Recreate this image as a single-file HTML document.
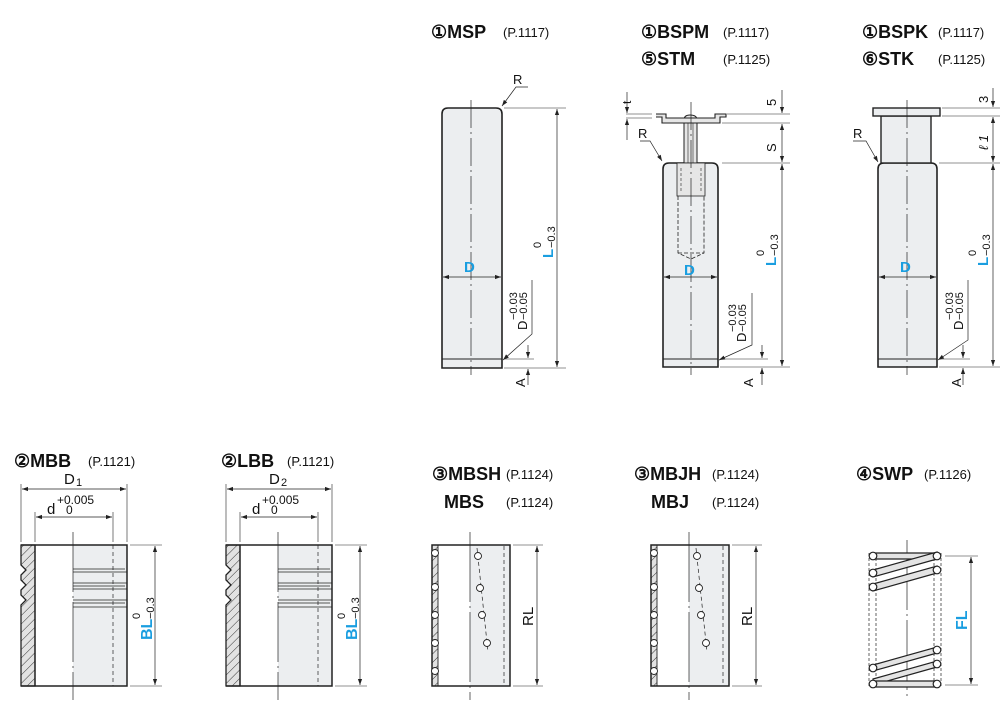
<!DOCTYPE html>
<html><head><meta charset="utf-8"><style>
html,body{margin:0;padding:0;background:#fff;}
svg{display:block;}
text{font-family:"Liberation Sans",sans-serif;fill:#111;}
.h{font-weight:bold;font-size:18px;}
.p{font-size:13px;}
.b{fill:#1a9ee0;font-weight:bold;}
</style></head><body>
<svg width="1000" height="705" viewBox="0 0 1000 705" xmlns="http://www.w3.org/2000/svg">
<defs>
<marker id="a" viewBox="0 0 10 10" refX="10" refY="5" markerWidth="8" markerHeight="6" orient="auto-start-reverse" markerUnits="userSpaceOnUse"><path d="M0,1.5 L10,5 L0,8.5 Z" fill="#222"/></marker>
<pattern id="ht" width="6" height="6" patternUnits="userSpaceOnUse" patternTransform="rotate(45)"><rect width="6" height="6" fill="#e2e2e2"/><line x1="0" y1="0" x2="0" y2="6" stroke="#333" stroke-width="1"/></pattern>
</defs>
<g stroke="#222" fill="none" stroke-width="1">

<!-- headers -->
<text class="h" x="431" y="38" stroke="none">①MSP</text><text class="p" x="503" y="37" stroke="none">(P.1117)</text>
<text class="h" x="641" y="38" stroke="none">①BSPM</text><text class="p" x="723" y="37" stroke="none">(P.1117)</text>
<text class="h" x="641" y="65" stroke="none">⑤STM</text><text class="p" x="723" y="64" stroke="none">(P.1125)</text>
<text class="h" x="862" y="38" stroke="none">①BSPK</text><text class="p" x="938" y="37" stroke="none">(P.1117)</text>
<text class="h" x="862" y="65" stroke="none">⑥STK</text><text class="p" x="938" y="64" stroke="none">(P.1125)</text>
<text class="h" x="14" y="467" stroke="none">②MBB</text><text class="p" x="88" y="466" stroke="none">(P.1121)</text>
<text class="h" x="221" y="467" stroke="none">②LBB</text><text class="p" x="287" y="466" stroke="none">(P.1121)</text>
<text class="h" x="432" y="480" stroke="none">③MBSH</text><text class="p" x="506" y="479" stroke="none">(P.1124)</text>
<text class="h" x="444" y="508" stroke="none">MBS</text><text class="p" x="506" y="507" stroke="none">(P.1124)</text>
<text class="h" x="634" y="480" stroke="none">③MBJH</text><text class="p" x="712" y="479" stroke="none">(P.1124)</text>
<text class="h" x="651" y="508" stroke="none">MBJ</text><text class="p" x="712" y="507" stroke="none">(P.1124)</text>
<text class="h" x="856" y="480" stroke="none">④SWP</text><text class="p" x="924" y="479" stroke="none">(P.1126)</text>

<!-- MSP -->
<path d="M442,364 V114 Q442,108 448,108 H496 Q502,108 502,114 V368 H442 Z" fill="#eceef0" stroke-width="1.6"/>
<line x1="442" y1="359" x2="502" y2="359"/>
<line x1="471" y1="100" x2="471" y2="375" stroke-width="0.7" stroke-dasharray="28,4,2,4"/>
<line x1="443" y1="277" x2="501" y2="277" marker-start="url(#a)" marker-end="url(#a)" stroke-width="0.8"/>
<text class="b" x="464" y="272" font-size="15" stroke="none">D</text>
<line x1="504" y1="108" x2="566" y2="108" stroke-width="0.6"/>
<line x1="504" y1="368" x2="566" y2="368" stroke-width="0.6"/>
<line x1="557" y1="109" x2="557" y2="367" marker-start="url(#a)" marker-end="url(#a)" stroke-width="0.7"/>
<polyline points="502,106 516,87 528,87" stroke-width="0.7" marker-start="url(#a)"/>
<text x="513" y="84" font-size="13" stroke="none">R</text>
<polyline points="503,360 532,334 532,280" stroke-width="0.7" marker-start="url(#a)"/>
<line x1="504" y1="359" x2="534" y2="359" stroke-width="0.6"/>
<line x1="528" y1="345" x2="528" y2="358" stroke-width="0.7" marker-end="url(#a)"/>
<line x1="528" y1="385" x2="528" y2="369" stroke-width="0.7" marker-end="url(#a)"/>
<g transform="translate(553,258) rotate(-90)"><text class="b" font-size="15" stroke="none">L</text><text x="10" y="-12" font-size="11" stroke="none">0</text><text x="10" y="2" font-size="11" stroke="none">−0.3</text></g>
<g transform="translate(527,330) rotate(-90)"><text font-size="13" stroke="none">D</text><text x="10" y="-10" font-size="11" stroke="none">−0.03</text><text x="10" y="0" font-size="11" stroke="none">−0.05</text></g>
<g transform="translate(525,387) rotate(-90)"><text font-size="13" stroke="none">A</text></g>

<!-- BSPM -->
<path d="M663,367 V169 Q663,163 669,163 H712 Q718,163 718,169 V367 Z" fill="#eceef0" stroke-width="1.6"/>
<line x1="663" y1="359" x2="718" y2="359"/>
<rect x="684" y="120" width="13" height="43" fill="#e6e6e6" stroke-width="1"/>
<line x1="688" y1="121" x2="688" y2="163" stroke-width="0.6"/><line x1="693" y1="121" x2="693" y2="163" stroke-width="0.6"/>
<path d="M684,120 Q684,115 690,115 Q697,115 697,120" fill="#e6e6e6"/>
<polyline points="656,114 666,114 666,118 715,118 715,114 726,114 726,117 720,117 720,123 662,123 662,117 656,117 Z" fill="#e6e6e6" stroke-width="1.1"/>
<rect x="677" y="163" width="28" height="33" fill="#e6e6e6" stroke-width="0.8"/>
<line x1="681" y1="168" x2="681" y2="193" stroke-dasharray="3,2" stroke-width="0.6"/><line x1="701" y1="168" x2="701" y2="193" stroke-dasharray="3,2" stroke-width="0.6"/>
<polyline points="678,196 678,253 691,259 704,253 704,196" stroke-dasharray="4,2" stroke-width="0.8"/>
<line x1="678" y1="253" x2="704" y2="253" stroke-dasharray="4,2" stroke-width="0.8"/>
<line x1="691" y1="102" x2="691" y2="375" stroke-width="0.7" stroke-dasharray="28,4,2,4"/>
<line x1="664" y1="277" x2="717" y2="277" marker-start="url(#a)" marker-end="url(#a)" stroke-width="0.8"/>
<text class="b" x="684" y="275" font-size="15" stroke="none">D</text>
<line x1="727" y1="114" x2="790" y2="114" stroke-width="0.6"/>
<line x1="722" y1="123" x2="790" y2="123" stroke-width="0.6"/>
<line x1="722" y1="163" x2="790" y2="163" stroke-width="0.6"/>
<line x1="720" y1="367" x2="790" y2="367" stroke-width="0.6"/>
<line x1="782" y1="90" x2="782" y2="113" stroke-width="0.7" marker-end="url(#a)"/>
<line x1="782" y1="124" x2="782" y2="162" marker-start="url(#a)" marker-end="url(#a)" stroke-width="0.7"/>
<line x1="782" y1="164" x2="782" y2="366" marker-start="url(#a)" marker-end="url(#a)" stroke-width="0.7"/>
<line x1="626" y1="114" x2="652" y2="114" stroke-width="0.6"/><line x1="626" y1="118" x2="652" y2="118" stroke-width="0.6"/>
<line x1="627" y1="92" x2="627" y2="113" marker-end="url(#a)" stroke-width="0.7"/>
<line x1="627" y1="140" x2="627" y2="119" marker-end="url(#a)" stroke-width="0.7"/>
<g transform="translate(631,104) rotate(-90)"><text font-size="12" stroke="none">t</text></g>
<g transform="translate(776,106) rotate(-90)"><text font-size="13" stroke="none">5</text></g>
<g transform="translate(776,152) rotate(-90)"><text font-size="13" stroke="none">S</text></g>
<polyline points="662,161 650,141 640,141" stroke-width="0.7" marker-start="url(#a)"/>
<text x="638" y="138" font-size="13" stroke="none">R</text>
<polyline points="719,360 752,345 752,293" stroke-width="0.7" marker-start="url(#a)"/>
<line x1="720" y1="359" x2="768" y2="359" stroke-width="0.6"/>
<line x1="762" y1="345" x2="762" y2="358" stroke-width="0.7" marker-end="url(#a)"/>
<line x1="762" y1="385" x2="762" y2="368" stroke-width="0.7" marker-end="url(#a)"/>
<g transform="translate(776,266) rotate(-90)"><text class="b" font-size="15" stroke="none">L</text><text x="10" y="-12" font-size="11" stroke="none">0</text><text x="10" y="2" font-size="11" stroke="none">−0.3</text></g>
<g transform="translate(746,342) rotate(-90)"><text font-size="13" stroke="none">D</text><text x="10" y="-10" font-size="11" stroke="none">−0.03</text><text x="10" y="0" font-size="11" stroke="none">−0.05</text></g>
<g transform="translate(753,387) rotate(-90)"><text font-size="13" stroke="none">A</text></g>

<!-- BSPK -->
<path d="M878,367 V169 Q878,163 884,163 H931 Q937,163 937,169 V367 Z" fill="#eceef0" stroke-width="1.6"/>
<line x1="878" y1="359" x2="937" y2="359"/>
<rect x="881" y="116" width="50" height="47" fill="#eceef0" stroke-width="1.4"/>
<rect x="873" y="108" width="67" height="8" fill="#eceef0" stroke-width="1.4"/>
<line x1="907" y1="100" x2="907" y2="375" stroke-width="0.7" stroke-dasharray="28,4,2,4"/>
<line x1="879" y1="277" x2="936" y2="277" marker-start="url(#a)" marker-end="url(#a)" stroke-width="0.8"/>
<text class="b" x="900" y="272" font-size="15" stroke="none">D</text>
<line x1="942" y1="108" x2="1000" y2="108" stroke-width="0.6"/>
<line x1="942" y1="116" x2="1000" y2="116" stroke-width="0.6"/>
<line x1="939" y1="163" x2="1000" y2="163" stroke-width="0.6"/>
<line x1="939" y1="367" x2="1000" y2="367" stroke-width="0.6"/>
<line x1="993" y1="88" x2="993" y2="107" stroke-width="0.7" marker-end="url(#a)"/>
<line x1="993" y1="117" x2="993" y2="162" marker-start="url(#a)" marker-end="url(#a)" stroke-width="0.7"/>
<line x1="993" y1="164" x2="993" y2="366" marker-start="url(#a)" marker-end="url(#a)" stroke-width="0.7"/>
<g transform="translate(988,103) rotate(-90)"><text font-size="13" stroke="none">3</text></g>
<g transform="translate(988,150) rotate(-90)"><text font-size="13" font-style="italic" stroke="none">ℓ 1</text></g>
<polyline points="878,162 866,141 853,141" stroke-width="0.7" marker-start="url(#a)"/>
<text x="853" y="138" font-size="13" stroke="none">R</text>
<polyline points="938,360 968,340 968,280" stroke-width="0.7" marker-start="url(#a)"/>
<line x1="939" y1="359" x2="970" y2="359" stroke-width="0.6"/>
<line x1="963" y1="345" x2="963" y2="358" stroke-width="0.7" marker-end="url(#a)"/>
<line x1="963" y1="385" x2="963" y2="368" stroke-width="0.7" marker-end="url(#a)"/>
<g transform="translate(988,266) rotate(-90)"><text class="b" font-size="15" stroke="none">L</text><text x="10" y="-12" font-size="11" stroke="none">0</text><text x="10" y="2" font-size="11" stroke="none">−0.3</text></g>
<g transform="translate(963,330) rotate(-90)"><text font-size="13" stroke="none">D</text><text x="10" y="-10" font-size="11" stroke="none">−0.03</text><text x="10" y="0" font-size="11" stroke="none">−0.05</text></g>
<g transform="translate(961,387) rotate(-90)"><text font-size="13" stroke="none">A</text></g>

<!-- MBB -->
<g>
<rect x="73" y="545" width="54" height="141" fill="#eceef0" stroke="none"/>
<path d="M21,545 H35 V686 H21 V605 L26,600 L21,595 V590 L26,585 L21,580 V575 L26,570 L21,565 Z" fill="url(#ht)" stroke-width="1.3"/>
<path d="M21,545 H127 V686 H21" stroke-width="1.5"/>
<line x1="35" y1="545" x2="35" y2="686" stroke-width="1.3"/>
<g stroke-width="0.8"><line x1="73" y1="569" x2="125" y2="569"/><line x1="73" y1="572" x2="127" y2="572"/>
<line x1="73" y1="583" x2="127" y2="583"/><line x1="73" y1="586" x2="125" y2="586"/><line x1="73" y1="589" x2="127" y2="589"/>
<line x1="73" y1="600" x2="127" y2="600"/><line x1="73" y1="603" x2="125" y2="603"/><line x1="73" y1="607" x2="127" y2="607"/></g>
<line x1="73" y1="532" x2="73" y2="700" stroke-width="0.7" stroke-dasharray="60,4,2,4"/>
<line x1="113" y1="545" x2="113" y2="686" stroke-width="0.7" stroke-dasharray="4,3"/>
<line x1="21" y1="484" x2="21" y2="542" stroke-width="0.6"/><line x1="127" y1="484" x2="127" y2="542" stroke-width="0.6"/>
<line x1="35" y1="512" x2="35" y2="542" stroke-width="0.6"/><line x1="113" y1="512" x2="113" y2="542" stroke-width="0.6"/>
<line x1="22" y1="489" x2="126" y2="489" marker-start="url(#a)" marker-end="url(#a)" stroke-width="0.7"/>
<line x1="36" y1="517" x2="112" y2="517" marker-start="url(#a)" marker-end="url(#a)" stroke-width="0.7"/>
<line x1="130" y1="545" x2="162" y2="545" stroke-width="0.6"/><line x1="130" y1="686" x2="162" y2="686" stroke-width="0.6"/>
<line x1="155" y1="546" x2="155" y2="685" marker-start="url(#a)" marker-end="url(#a)" stroke-width="0.7"/>
<text x="47" y="514" font-size="15" stroke="none">d</text>
<text x="57" y="504" font-size="12" stroke="none">+0.005</text>
<text x="66" y="514" font-size="12" stroke="none">0</text>
<g transform="translate(152,640) rotate(-90)"><text class="b" font-size="16" stroke="none">BL</text><text x="21" y="-12" font-size="11" stroke="none">0</text><text x="21" y="2" font-size="11" stroke="none">−0.3</text></g>
<text x="64" y="484" font-size="15" stroke="none">D</text><text x="76" y="486" font-size="11" stroke="none">1</text>
</g>
<!-- LBB -->
<g transform="translate(205,0)">
<rect x="73" y="545" width="54" height="141" fill="#eceef0" stroke="none"/>
<path d="M21,545 H35 V686 H21 V605 L26,600 L21,595 V590 L26,585 L21,580 V575 L26,570 L21,565 Z" fill="url(#ht)" stroke-width="1.3"/>
<path d="M21,545 H127 V686 H21" stroke-width="1.5"/>
<line x1="35" y1="545" x2="35" y2="686" stroke-width="1.3"/>
<g stroke-width="0.8"><line x1="73" y1="569" x2="125" y2="569"/><line x1="73" y1="572" x2="127" y2="572"/>
<line x1="73" y1="583" x2="127" y2="583"/><line x1="73" y1="586" x2="125" y2="586"/><line x1="73" y1="589" x2="127" y2="589"/>
<line x1="73" y1="600" x2="127" y2="600"/><line x1="73" y1="603" x2="125" y2="603"/><line x1="73" y1="607" x2="127" y2="607"/></g>
<line x1="73" y1="532" x2="73" y2="700" stroke-width="0.7" stroke-dasharray="60,4,2,4"/>
<line x1="113" y1="545" x2="113" y2="686" stroke-width="0.7" stroke-dasharray="4,3"/>
<line x1="21" y1="484" x2="21" y2="542" stroke-width="0.6"/><line x1="127" y1="484" x2="127" y2="542" stroke-width="0.6"/>
<line x1="35" y1="512" x2="35" y2="542" stroke-width="0.6"/><line x1="113" y1="512" x2="113" y2="542" stroke-width="0.6"/>
<line x1="22" y1="489" x2="126" y2="489" marker-start="url(#a)" marker-end="url(#a)" stroke-width="0.7"/>
<line x1="36" y1="517" x2="112" y2="517" marker-start="url(#a)" marker-end="url(#a)" stroke-width="0.7"/>
<line x1="130" y1="545" x2="162" y2="545" stroke-width="0.6"/><line x1="130" y1="686" x2="162" y2="686" stroke-width="0.6"/>
<line x1="155" y1="546" x2="155" y2="685" marker-start="url(#a)" marker-end="url(#a)" stroke-width="0.7"/>
<text x="47" y="514" font-size="15" stroke="none">d</text>
<text x="57" y="504" font-size="12" stroke="none">+0.005</text>
<text x="66" y="514" font-size="12" stroke="none">0</text>
<g transform="translate(152,640) rotate(-90)"><text class="b" font-size="16" stroke="none">BL</text><text x="21" y="-12" font-size="11" stroke="none">0</text><text x="21" y="2" font-size="11" stroke="none">−0.3</text></g>
<text x="64" y="484" font-size="15" stroke="none">D</text><text x="76" y="486" font-size="11" stroke="none">2</text>
</g>

<!-- MBSH -->
<g>
<rect x="470" y="545" width="40" height="141" fill="#eceef0" stroke="none"/>
<rect x="432" y="545" width="6" height="141" fill="url(#ht)" stroke-width="0.9"/>
<rect x="432" y="545" width="78" height="141" stroke-width="1.5"/>
<g fill="#fff" stroke-width="0.9"><circle cx="435" cy="553" r="3.5"/><circle cx="435" cy="587" r="3.5"/><circle cx="435" cy="615" r="3.5"/><circle cx="435" cy="643" r="3.5"/><circle cx="435" cy="671" r="3.5"/></g>
<line x1="470" y1="532" x2="470" y2="700" stroke-width="0.7" stroke-dasharray="70,4,2,4"/>
<line x1="504" y1="546" x2="504" y2="686" stroke-width="0.7" stroke-dasharray="4,3"/>
<polyline points="477,548 488,652" stroke-width="0.7" stroke-dasharray="4,3"/>
<g fill="#fff" stroke-width="0.9"><circle cx="478" cy="556" r="3.5"/><circle cx="480" cy="588" r="3.5"/><circle cx="482" cy="615" r="3.5"/><circle cx="487" cy="643" r="3.5"/></g>
<line x1="513" y1="545" x2="543" y2="545" stroke-width="0.6"/><line x1="513" y1="686" x2="543" y2="686" stroke-width="0.6"/>
<line x1="537" y1="546" x2="537" y2="685" marker-start="url(#a)" marker-end="url(#a)" stroke-width="0.7"/>
<g transform="translate(533,626) rotate(-90)"><text font-size="15" stroke="none">RL</text></g>
</g>
<!-- MBJH -->
<g transform="translate(219,0)">
<rect x="470" y="545" width="40" height="141" fill="#eceef0" stroke="none"/>
<rect x="432" y="545" width="6" height="141" fill="url(#ht)" stroke-width="0.9"/>
<rect x="432" y="545" width="78" height="141" stroke-width="1.5"/>
<g fill="#fff" stroke-width="0.9"><circle cx="435" cy="553" r="3.5"/><circle cx="435" cy="587" r="3.5"/><circle cx="435" cy="615" r="3.5"/><circle cx="435" cy="643" r="3.5"/><circle cx="435" cy="671" r="3.5"/></g>
<line x1="470" y1="532" x2="470" y2="700" stroke-width="0.7" stroke-dasharray="70,4,2,4"/>
<line x1="504" y1="546" x2="504" y2="686" stroke-width="0.7" stroke-dasharray="4,3"/>
<polyline points="477,548 488,652" stroke-width="0.7" stroke-dasharray="4,3"/>
<g fill="#fff" stroke-width="0.9"><circle cx="478" cy="556" r="3.5"/><circle cx="480" cy="588" r="3.5"/><circle cx="482" cy="615" r="3.5"/><circle cx="487" cy="643" r="3.5"/></g>
<line x1="513" y1="545" x2="543" y2="545" stroke-width="0.6"/><line x1="513" y1="686" x2="543" y2="686" stroke-width="0.6"/>
<line x1="537" y1="546" x2="537" y2="685" marker-start="url(#a)" marker-end="url(#a)" stroke-width="0.7"/>
<g transform="translate(533,626) rotate(-90)"><text font-size="15" stroke="none">RL</text></g>
</g>

<!-- SWP -->
<g stroke-width="0.7" stroke-dasharray="3,2">
<line x1="869" y1="553" x2="869" y2="688"/><line x1="876" y1="553" x2="876" y2="688"/>
<line x1="934" y1="553" x2="934" y2="688"/><line x1="941" y1="553" x2="941" y2="688"/>
</g>
<line x1="907" y1="540" x2="907" y2="700" stroke-width="0.7" stroke-dasharray="70,4,2,4"/>
<g fill="#e4e4e4" stroke-width="1.2">
<polygon points="873,553 937,553 937,559 873,559"/>
<polygon points="873,570 937,552 937,559 873,577"/>
<polygon points="873,584 937,566 937,573 873,591"/>
<polygon points="873,665 937,647 937,653 873,671"/>
<polygon points="873,679 937,661 937,667 873,685"/>
<polygon points="873,681 937,681 937,687 873,687"/>
</g>
<g fill="#fff" stroke-width="1.2">
<circle cx="873" cy="556" r="3.8"/><circle cx="937" cy="556" r="3.8"/>
<circle cx="873" cy="573" r="3.8"/><circle cx="937" cy="570" r="3.8"/>
<circle cx="873" cy="587" r="3.8"/>
<circle cx="937" cy="650" r="3.8"/><circle cx="873" cy="668" r="3.8"/><circle cx="937" cy="664" r="3.8"/>
<circle cx="873" cy="684" r="3.8"/><circle cx="937" cy="684" r="3.8"/>
</g>
<line x1="945" y1="556" x2="978" y2="556" stroke-width="0.6"/><line x1="945" y1="685" x2="978" y2="685" stroke-width="0.6"/>
<line x1="971" y1="557" x2="971" y2="684" marker-start="url(#a)" marker-end="url(#a)" stroke-width="0.7"/>
<g transform="translate(967,630) rotate(-90)"><text class="b" font-size="16" stroke="none">FL</text></g>
</g>
</svg>
</body></html>
